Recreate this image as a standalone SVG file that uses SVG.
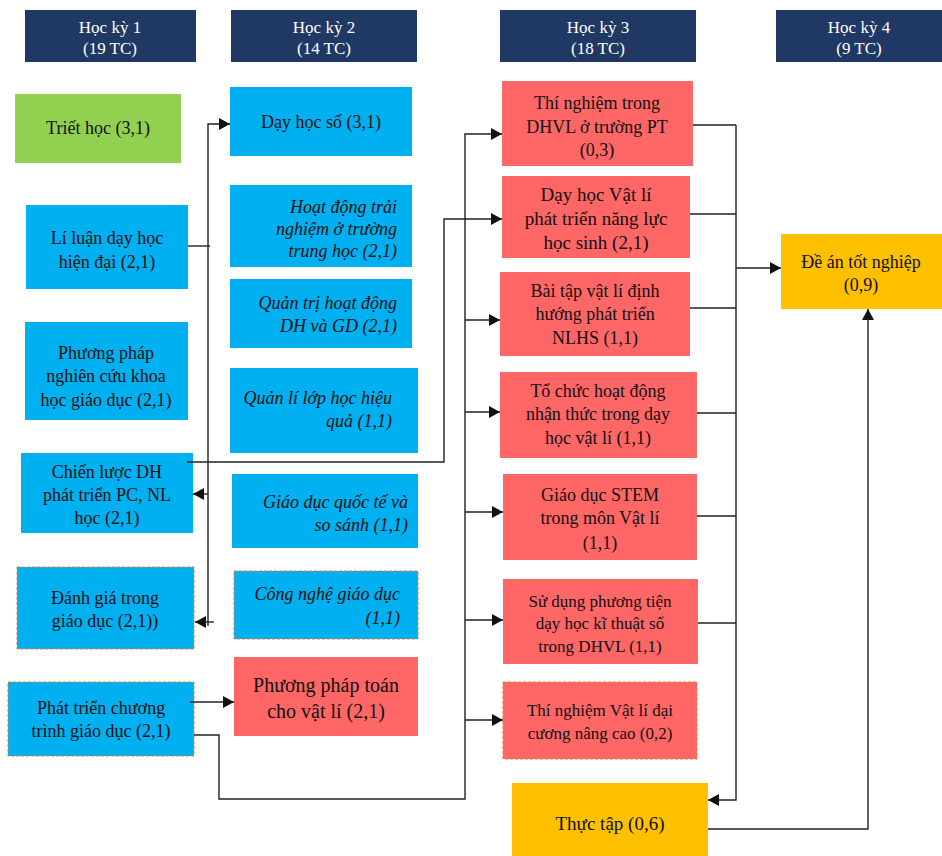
<svg xmlns="http://www.w3.org/2000/svg" width="942" height="856" viewBox="0 0 942 856">
<style>
text{font-family:"Liberation Serif","Times New Roman",serif;font-size:18px;fill:#111}
.hd rect{fill:#1F3864}
.hd text{fill:#fff;font-size:17px;text-anchor:middle}
.c text{text-anchor:middle}
.r text{text-anchor:end;font-style:italic}
.blue{fill:#00B0F0}
.green{fill:#92D050}
.red{fill:#FF6666}
.amber{fill:#FFC000}
.dash{stroke:#ED7D31;stroke-width:1;stroke-dasharray:3 2}
.lk path{fill:none;stroke:#222;stroke-width:1.4}
.ar{marker-end:url(#ah)}
</style>
<defs>
<marker id="ah" markerUnits="userSpaceOnUse" markerWidth="12" markerHeight="12" refX="11" refY="6" orient="auto">
<path d="M0,0 L11,6 L0,12 z" fill="#111"/>
</marker>
</defs>
<rect width="942" height="856" fill="#fff"/>

<g id="hk1" class="hd"><rect x="25" y="10" width="171" height="52"/><text x="110" y="33">Học kỳ 1</text><text x="110" y="54">(19 TC)</text></g>
<g id="hk2" class="hd"><rect x="231" y="10" width="186" height="52"/><text x="324" y="33">Học kỳ 2</text><text x="324" y="54">(14 TC)</text></g>
<g id="hk3" class="hd"><rect x="500" y="10" width="196" height="52"/><text x="598" y="33">Học kỳ 3</text><text x="598" y="54">(18 TC)</text></g>
<g id="hk4" class="hd"><rect x="776" y="10" width="166" height="52"/><text x="859" y="33">Học kỳ 4</text><text x="859" y="54">(9 TC)</text></g>

<g id="triet-hoc" class="c"><rect class="green" x="15" y="94" width="166" height="69"/><text x="98" y="134">Triết học (3,1)</text></g>
<g id="li-luan" class="c"><rect class="blue" x="26" y="205" width="162" height="84"/><text x="107" y="244">Lí luận dạy học</text><text x="107" y="268">hiện đại (2,1)</text></g>
<g id="pp-nckh" class="c"><rect class="blue" x="25" y="322" width="163" height="98"/><text x="106" y="359">Phương pháp</text><text x="106" y="382">nghiên cứu khoa</text><text x="106" y="406">học giáo dục (2,1)</text></g>
<g id="chien-luoc" class="c"><rect class="blue" x="21" y="453" width="172" height="80"/><text x="107" y="478">Chiến lược DH</text><text x="107" y="501">phát triển PC, NL</text><text x="107" y="524">học (2,1)</text></g>
<g id="danh-gia" class="c"><rect class="blue dash" x="17" y="567" width="177" height="82"/><text x="105" y="604">Đánh giá trong</text><text x="105" y="627">giáo dục (2,1))</text></g>
<g id="phat-trien-ct" class="c"><rect class="blue dash" x="8" y="682" width="186" height="74"/><text x="101" y="714">Phát triển chương</text><text x="101" y="737">trình giáo dục (2,1)</text></g>

<g id="day-hoc-so" class="c"><rect class="blue" x="230" y="87" width="182" height="69"/><text x="321" y="128">Dạy học số (3,1)</text></g>
<g id="hd-trai-nghiem" class="r"><rect class="blue" x="230" y="185" width="182" height="82"/><text x="397" y="213">Hoạt động trải</text><text x="397" y="235">nghiệm ở trường</text><text x="397" y="257">trung học (2,1)</text></g>
<g id="quan-tri" class="r"><rect class="blue" x="230" y="279" width="182" height="69"/><text x="397" y="309">Quản trị hoạt động</text><text x="397" y="332">DH và GD (2,1)</text></g>
<g id="quan-li-lop" class="r"><rect class="blue" x="230" y="368" width="188" height="85"/><text x="392" y="404">Quản lí lớp học hiệu</text><text x="392" y="427">quả (1,1)</text></g>
<g id="gd-quoc-te" class="r"><rect class="blue" x="232" y="474" width="186" height="74"/><text x="408" y="508">Giáo dục quốc tế và</text><text x="408" y="531">so sánh (1,1)</text></g>
<g id="cong-nghe-gd" class="r"><rect class="blue dash" x="234" y="571" width="184" height="68"/><text x="400" y="600">Công nghệ giáo dục</text><text x="400" y="624">(1,1)</text></g>
<g id="pp-toan" class="c"><rect class="red" x="234" y="657" width="184" height="79"/><text x="326" y="692" style="font-size:20px">Phương pháp toán</text><text x="326" y="718" style="font-size:20px">cho vật lí (2,1)</text></g>

<g id="tn-dhvl" class="c"><rect class="red" x="502" y="81" width="191" height="85"/><text x="597" y="109">Thí nghiệm trong</text><text x="597" y="133">DHVL ở trường PT</text><text x="597" y="156">(0,3)</text></g>
<g id="dh-vat-li" class="c"><rect class="red" x="502" y="176" width="188" height="82"/><text x="596" y="201" style="font-size:19px">Dạy học Vật lí</text><text x="596" y="225" style="font-size:19px">phát triển năng lực</text><text x="596" y="249" style="font-size:19px">học sinh (2,1)</text></g>
<g id="bai-tap" class="c"><rect class="red" x="500" y="272" width="190" height="84"/><text x="595" y="297">Bài tập vật lí định</text><text x="595" y="320">hướng phát triển</text><text x="595" y="344">NLHS (1,1)</text></g>
<g id="to-chuc" class="c"><rect class="red" x="500" y="372" width="197" height="86"/><text x="598" y="397">Tổ chức hoạt động</text><text x="598" y="420">nhận thức trong dạy</text><text x="598" y="444">học vật lí (1,1)</text></g>
<g id="stem" class="c"><rect class="red" x="503" y="474" width="194" height="86"/><text x="600" y="501">Giáo dục STEM</text><text x="600" y="524">trong môn Vật lí</text><text x="600" y="549">(1,1)</text></g>
<g id="su-dung-pt" class="c"><rect class="red" x="503" y="579" width="195" height="85"/><text x="600" y="607" style="font-size:17px">Sử dụng phương tiện</text><text x="600" y="629" style="font-size:17px">dạy học kĩ thuật số</text><text x="600" y="652" style="font-size:17px">trong DHVL (1,1)</text></g>
<g id="tn-dai-cuong" class="c"><rect class="red dash" x="503" y="682" width="194" height="77"/><text x="600" y="716" style="font-size:17px">Thí nghiệm Vật lí đại</text><text x="600" y="739" style="font-size:17px">cương nâng cao (0,2)</text></g>
<g id="thuc-tap" class="c"><rect class="amber" x="512" y="783" width="196" height="73"/><text x="610" y="830" style="font-size:19px">Thực tập (0,6)</text></g>

<g id="de-an" class="c"><rect class="amber" x="781" y="234" width="161" height="75"/><text x="861" y="268">Đề án tốt nghiệp</text><text x="861" y="291">(0,9)</text></g>

<g id="connectors" class="lk">
<path class="ar" d="M208,626 V124 H230"/>
<path d="M188,246 H210"/>
<path class="ar" d="M208,494 H193"/>
<path class="ar" d="M214,622 H195"/>
<path class="ar" d="M187,462 H444 V219 H502"/>
<path class="ar" d="M194,735 H219 V799 H465 V134 H502"/>
<path class="ar" d="M465,320 H500"/>
<path class="ar" d="M465,412 H500"/>
<path class="ar" d="M465,512 H503"/>
<path class="ar" d="M465,620 H503"/>
<path class="ar" d="M465,720 H503"/>
<path class="ar" d="M190,702 H234"/>
<path d="M693,125 H736 M690,214 H736 M690,308 H736 M697,413 H736 M697,516 H736 M698,623 H736"/>
<path class="ar" d="M736,125 V800 H708"/>
<path class="ar" d="M736,268 H781"/>
<path class="ar" d="M708,829 H868 V309"/>
</g>
</svg>
